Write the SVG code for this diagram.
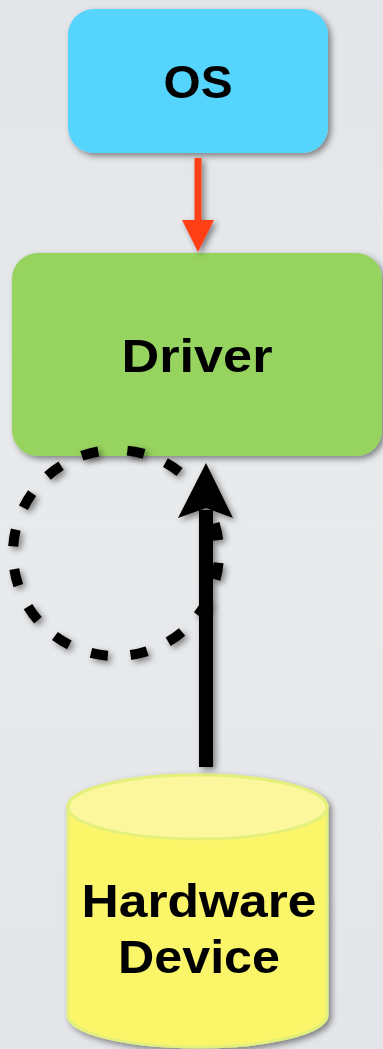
<svg xmlns="http://www.w3.org/2000/svg" width="383" height="1049" viewBox="0 0 383 1049">
<defs>
<linearGradient id="bg" x1="0" y1="0" x2="0" y2="1">
<stop offset="0" stop-color="#E3E5E8"/><stop offset="0.5" stop-color="#E8EAEC"/><stop offset="1" stop-color="#E3E5E8"/>
</linearGradient>
<filter id="sh" x="-20%" y="-20%" width="140%" height="140%">
<feDropShadow dx="3" dy="3" stdDeviation="3" flood-color="#000" flood-opacity="0.45"/>
</filter>
<style>
.lbl{font-family:"Liberation Sans",Arial,sans-serif;font-weight:bold;font-size:46px;fill:#000;text-anchor:middle}
</style>
</defs>
<rect width="383" height="1049" fill="url(#bg)"/>
<g id="os" filter="url(#sh)">
<rect x="68" y="9" width="260" height="144" rx="26" fill="#54D4FD"/>
<text class="lbl" x="198" y="98" textLength="69" lengthAdjust="spacingAndGlyphs">OS</text>
</g>
<g id="driver" filter="url(#sh)">
<rect x="12" y="253" width="370" height="203" rx="26" fill="#97D35F"/>
<text class="lbl" x="197" y="372" textLength="151" lengthAdjust="spacingAndGlyphs">Driver</text>
</g>
<g id="hardware" filter="url(#sh)">
<path d="M68,807 A129.5,32 0 0 1 327,807 L327,1015 A129.5,32 0 0 1 68,1015 Z" fill="#FBF56B" stroke="#E4F07C" stroke-width="3"/>
<ellipse cx="197.5" cy="807" rx="129.5" ry="32" fill="#FCF79C" stroke="#E4F07C" stroke-width="3"/>
<text class="lbl" x="199" y="917" textLength="235" lengthAdjust="spacingAndGlyphs">Hardware</text>
<text class="lbl" x="199" y="973" textLength="162" lengthAdjust="spacingAndGlyphs">Device</text>
</g>
<g id="connectors">
<g filter="url(#sh)">
<line x1="198" y1="158" x2="198" y2="224" stroke="#FF4118" stroke-width="7"/>
<polygon points="182,220 214,220 198,252" fill="#FF4118"/>
</g>
<g filter="url(#sh)">
<circle cx="116" cy="553" r="103" fill="none" stroke="#000" stroke-width="10" stroke-dasharray="17 23" stroke-dashoffset="28.5" transform="rotate(-90 116 553)"/>
</g>
<g filter="url(#sh)">
<line x1="206" y1="767" x2="206" y2="510" stroke="#000" stroke-width="14"/>
<polygon points="178,518 206,463 233,518 206,508" fill="#000"/>
</g>
</g>
</svg>
